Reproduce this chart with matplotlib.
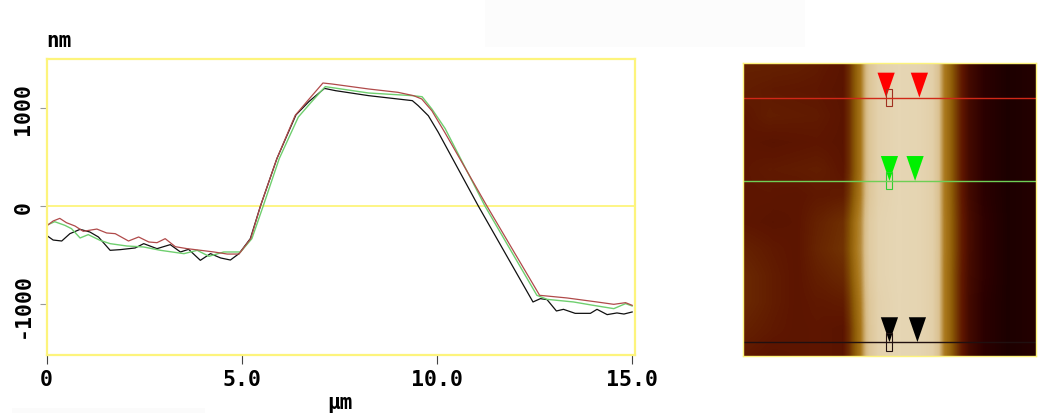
import numpy as np
import matplotlib
matplotlib.use("Agg")
import matplotlib.pyplot as plt
from matplotlib.colors import LinearSegmentedColormap
from matplotlib.patches import Polygon, Rectangle

# section profiles, um / nm
red_x = [0, .17, .34, .51, .73, .94, 1.29, 1.54, 1.76, 2.1, 2.36, 2.62, 2.83, 3.04, 3.3, 3.6, 3.95, 4.29, 4.63, 4.93,
         5.23, 5.48, 5.9, 6.37, 6.69, 7.08, 7.31, 8.25, 9.0, 9.4, 9.61, 9.87, 10.21, 11.28, 12.63,
         13.33, 14.1, 14.53, 14.83, 15]
red_y = [-204, -153, -126, -170, -204, -258, -235, -275, -282, -357, -316, -367, -374, -333, -415, -435, -452, -469, -490, -490,
         -333, 0, 483, 925, 1075, 1255, 1245, 1194, 1160, 1126, 1092, 972, 745, 0, -911,
         -938, -979, -1003, -986, -1013]
green_x = [0, .21, .47, .64, .86, 1.07, 1.37, 1.63, 2.06, 2.49, 2.92, 3.52, 3.86, 4.16, 4.54, 4.97,
           5.26, 5.55, 5.96, 6.45, 6.76, 7.14, 8.25, 9.37, 9.62, 9.87, 10.21, 11.23, 12.56,
           12.82, 13.5, 14, 14.53, 14.83, 15]
green_y = [-197, -160, -197, -231, -326, -292, -350, -384, -408, -418, -452, -486, -452, -513, -469, -469,
           -333, 0, 483, 908, 1050, 1218, 1153, 1126, 1115, 990, 790, 0, -911,
           -952, -979, -1013, -1047, -996, -1020]
black_x = [0, .17, .39, .6, .86, 1.11, 1.33, 1.63, 1.89, 2.27, 2.49, 2.83, 3.17, 3.43, 3.64, 3.94, 4.2, 4.46, 4.71, 4.93,
           5.22, 5.48, 5.9, 6.39, 6.72, 7.12, 7.4, 8.25, 9.37, 9.52, 9.78, 10.03, 11.06, 12.46, 12.65, 12.82,
           13.06, 13.24, 13.54, 13.93, 14.1, 14.36, 14.61, 14.79, 15]
black_y = [-299, -347, -357, -282, -238, -265, -316, -452, -445, -428, -384, -435, -394, -469, -442, -554, -486, -530, -551, -486,
           -333, 0, 483, 930, 1065, 1200, 1177, 1126, 1075, 1024, 921, 755, 0, -979, -945, -955,
           -1071, -1054, -1095, -1095, -1054, -1108, -1091, -1102, -1081]

x_ticks = [0, 5, 10, 15]
x_tick_labels = ["0", "5.0", "10.0", "15.0"]
y_ticks = [-1000, 0, 1000]
y_tick_labels = ["-1000", "0", "1000"]

# AFM height map: cross profile of the ridge plus a coarse table of the blotches
profile_pos = [0, .1, .25, .34, .36, .38, .40, .415, .43, .46, .53, .6, .645, .665, .685, .705, .725, .745, .77, .82, .9, 1]
profile_val = [.24, .23, .24, .23, .3, .42, .52, .68, .78, .85, .88, .87, .84, .76, .54, .46, .35, .25, .18, .12, .08, .1]
blotches = [
    [.03, .04, .03, .01, .00, .00, 0, 0, 0, 0, 0, 0],
    [.02, .02, .01, .00, .00, .00, 0, 0, 0, 0, 0, 0],
    [.00, .03, .02, .01, .00, .00, 0, 0, 0, 0, 0, 0],
    [.00, .00, .00, .00, .00, .00, 0, 0, 0, 0, 0, 0],
    [.00, .02, .02, .02, .00, .00, 0, 0, 0, 0, 0, 0],
    [.00, .01, .00, .01, .03, .00, 0, 0, 0, 0, 0, 0],
    [.00, .00, .00, .04, .09, .01, 0, 0, .01, .01, 0, 0],
    [.03, .02, .00, .05, .10, .01, 0, 0, .01, .01, 0, 0],
    [.05, .03, .00, .03, .07, .01, 0, 0, 0, .01, 0, 0],
    [.05, .03, .00, .01, .03, .00, 0, 0, 0, 0, 0, 0],
    [.03, .02, .00, .00, .00, .00, 0, 0, 0, 0, 0, 0],
    [.01, .00, .00, .00, .00, .00, 0, 0, 0, 0, 0, 0],
]

# cursors on the map: row of the scan line, the two triangle tips, the small box
cursor_colors = ["#ff0000", "#00f000", "#000000"]
box_colors = ["#a03020", "#30d030", "#201010"]
scan_colors = ["#d02818", "#6fcf55", "#201010"]
scan_rows = [1.79, 6.05, 14.29]
tips_a = [7.34, 7.51, 7.51]
tips_b = [9.04, 8.82, 8.94]
box_x = [7.49, 7.49, 7.49]

W, H = 1039, 414
FRAME = "#fdf47c"
plt.rcParams["font.family"] = "DejaVu Sans Mono"
plt.rcParams["font.weight"] = "bold"

def px_axes(fig, left, top, right, bottom):
    return fig.add_axes([left / W, 1 - bottom / H, (right - left) / W, (bottom - top) / H])

fig = plt.figure(figsize=(W / 100, H / 100), dpi=100)

# faint jpeg ghosts in the white background
fig.patches.append(Rectangle((485 / W, 1 - 48 / H), 320 / W, 48 / H, transform=fig.transFigure, fc="#fcfcfc", ec="none"))
fig.patches.append(Rectangle((12 / W, 0), 193 / W, 5 / H, transform=fig.transFigure, fc="#fbfbfb", ec="none"))

ax = px_axes(fig, 46.5, 59.5, 634.5, 356)
ax.plot(black_x, black_y, color="#101010", lw=0.9)
ax.plot(green_x, green_y, color="#6fcf6f", lw=1.0)
ax.plot(red_x, red_y, color="#b04a4a", lw=0.9)
ax.axhline(0, color=FRAME, lw=1.3, zorder=1)
ax.set_xlim(0, 15.06)
ax.set_ylim(-1520, 1505)
for s in ax.spines.values():
    s.set_color(FRAME)
    s.set_linewidth(1.6)
ax.set_xticks(x_ticks, x_tick_labels, fontsize=15.5)
ax.set_yticks(y_ticks, y_tick_labels, fontsize=15.5, rotation=90, va="center")
ax.tick_params(axis="x", length=6.5, width=0.8, color="#444444", pad=3.5)
ax.tick_params(axis="y", length=5, width=0.8, color="#999999", pad=4.5)
fig.text(59 / W, 1 - 41 / H, "nm", fontsize=15, ha="center", va="center")
fig.text(340 / W, 1 - 403 / H, "μm", fontsize=15, ha="center", va="center")

# height image
cmap = LinearSegmentedColormap.from_list("afm", [
    (0, "#000000"), (.12, "#2c0000"), (.24, "#5e1600"), (.42, "#8c5a06"),
    (.52, "#a8761a"), (.72, "#d8bc88"), (.88, "#e6d6b4"), (1, "#f8f0dc")])
cols = np.linspace(0, 1, 294)
height = np.tile(np.interp(cols, profile_pos, profile_val), (294, 1))
# spread the blotch table over the image
grid = np.linspace(0, 11, 294)
patch = np.array([np.interp(grid, np.arange(12), r) for r in np.array(blotches)])
patch = np.array([np.interp(grid, np.arange(12), patch[:, j]) for j in range(294)]).T
height = height + patch

ax2 = px_axes(fig, 742.5, 63.5, 1036, 357)
ax2.imshow(height, cmap=cmap, vmin=0, vmax=1, extent=[0, 15, 15, 0], aspect="auto", interpolation="bilinear")
tri_w, tri_h = 0.88, 1.27
box_w, box_h = 0.27, 0.88
for c, bc, sc, row, a, b, bx in zip(cursor_colors, box_colors, scan_colors, scan_rows, tips_a, tips_b, box_x):
    ax2.axhline(row, color=sc, lw=1.0)
    for tip in (a, b):
        ax2.add_patch(Polygon([(tip - tri_w / 2, row - tri_h), (tip + tri_w / 2, row - tri_h), (tip, row)],
                              fc=c, ec="none"))
    ax2.add_patch(Rectangle((bx - box_w / 2, row - box_h / 2), box_w, box_h, fc="none", ec=bc, lw=0.8))
ax2.set_xticks([])
ax2.set_yticks([])
for s in ax2.spines.values():
    s.set_color(FRAME)
    s.set_linewidth(1.0)

fig.savefig("out.png", dpi=100)
